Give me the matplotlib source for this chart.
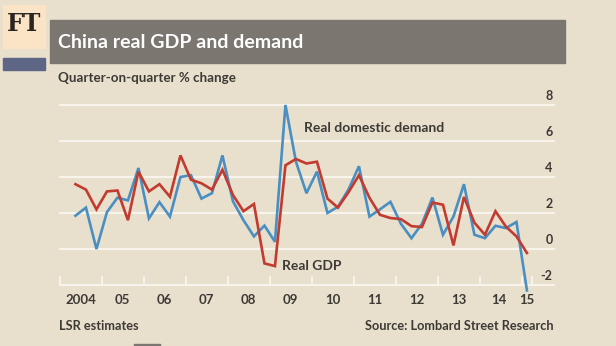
import matplotlib.pyplot as plt
from matplotlib.patches import Rectangle

plt.rcParams['font.family'] = ['Lato', 'DejaVu Sans']

# Quarterly data, 2004 Q2 to 2015 Q1 (quarter-on-quarter % change)
start_year = 2004
start_quarter = 2
real_gdp = [3.6, 3.3, 2.2, 3.2, 3.25, 1.6, 4.3, 3.2, 3.6, 2.9,
            5.2, 3.85, 3.65, 3.3, 4.4, 3.0, 2.1, 2.5, -0.8, -0.95,
            4.65, 5.0, 4.75, 4.85, 2.8, 2.3, 3.15, 4.1, 2.85, 1.9,
            1.72, 1.66, 1.27, 1.22, 2.58, 2.46, 0.2, 2.89, 1.46, 0.79,
            2.1, 1.24, 0.7, -0.22]
real_demand = [1.85, 2.3, 0.0, 2.05, 2.85, 2.7, 4.5, 1.7, 2.6, 1.8,
               4.0, 4.1, 2.8, 3.1, 5.2, 2.65, 1.6, 0.7, 1.3, 0.4,
               8.0, 4.85, 3.1, 4.3, 2.0, 2.35, 3.3, 4.6, 1.8, 2.2,
               2.62, 1.4, 0.6, 1.4, 2.86, 0.79, 1.8, 3.6, 0.79, 0.6,
               1.29, 1.16, 1.5, -2.3]
year_labels = ['2004', '05', '06', '07', '08', '09', '10', '11', '12', '13', '14', '15']
y_ticks = [-2, 0, 2, 4, 6, 8]

bg = '#e8dfcd'
grey_bar = '#7b7670'
text_dark = '#3d3a36'
blue = '#4a8fc2'
red = '#c23b2f'

# quarter centres as fractional years
x = [start_year + (start_quarter - 1 + i + 0.5) / 4 for i in range(len(real_gdp))]

W, H = 616, 346
fig = plt.figure(figsize=(W / 100, H / 100), dpi=100, facecolor=bg)

# header decorations in pixel coordinates
def px_rect(x0, y0, x1, y1, color):
    fig.patches.append(Rectangle((x0 / W, 1 - y1 / H), (x1 - x0) / W, (y1 - y0) / H,
                                 transform=fig.transFigure, color=color, zorder=0))

px_rect(3, 5, 45, 48, '#fbe3c6')
px_rect(3, 58, 45, 70, '#5e6685')
px_rect(50, 20, 565, 63, grey_bar)
px_rect(134, 344, 160, 346, grey_bar)

fig.text(24 / W, 1 - 24 / H, 'FT', family='DejaVu Serif', fontsize=17, fontweight='bold',
         color='#2b2522', ha='center', va='center')
fig.text(58 / W, 1 - 42 / H, 'China real GDP and demand', fontsize=14, fontweight='bold',
         color='white', ha='left', va='center')
fig.text(58 / W, 1 - 78 / H, 'Quarter-on-quarter % change', fontsize=9.6, fontweight='bold',
         color=text_dark, ha='left', va='center')
fig.text(59 / W, 1 - 326 / H, 'LSR estimates', fontsize=9.2, fontweight='bold',
         color=text_dark, ha='left', va='center')
fig.text(554 / W, 1 - 326 / H, 'Source: Lombard Street Research', fontsize=9.2, fontweight='bold',
         color=text_dark, ha='right', va='center')

left, right, top, bottom = 59.7, 554, 105, 285
ax = fig.add_axes([left / W, 1 - bottom / H, (right - left) / W, (bottom - top) / H])
ax.set_facecolor('none')
x_end = start_year + (right - left) / 42.0
ax.set_xlim(start_year, x_end)
ax.set_ylim(-2, 8)
for s in ax.spines.values():
    s.set_visible(False)
ax.set_xticks([])
ax.set_yticks([])

# gridlines and value labels on the right
for v in y_ticks:
    ax.axhline(v, color='#f8f4ec', lw=1.6, zorder=1, clip_on=False)
    ax.text(x_end - 0.03, v + 0.15, str(v), ha='right', va='bottom',
            fontsize=9, fontweight='bold', color=text_dark)

# year ticks rising from the baseline
tick_pos = list(range(2004, 2016)) + [2015.25]
for t in tick_pos:
    ax.plot([t, t], [-2, -1.55], color='#f8f4ec', lw=1.4, zorder=1, clip_on=False)
for i, lab in enumerate(year_labels):
    xc = 2004 + i + 0.5 if lab != '15' else 2015.125
    if lab == '14':
        xc = 2014.45
    ax.text(xc, -2.85, lab, ha='center', va='center', fontsize=9.5,
            fontweight='bold', color=text_dark)

ax.plot(x, real_demand, color=blue, lw=1.9, zorder=3, clip_on=False,
        solid_joinstyle='miter')
ax.plot(x, real_gdp, color=red, lw=1.9, zorder=4, clip_on=False,
        solid_joinstyle='miter')

ax.text(2009.82, 6.75, 'Real domestic demand', ha='left', va='center', fontsize=10,
        fontweight='bold', color=text_dark)
ax.text(2009.3, -0.95, 'Real GDP', ha='left', va='center', fontsize=10,
        fontweight='bold', color=text_dark)

fig.savefig('out.png', dpi=100, facecolor=bg)
